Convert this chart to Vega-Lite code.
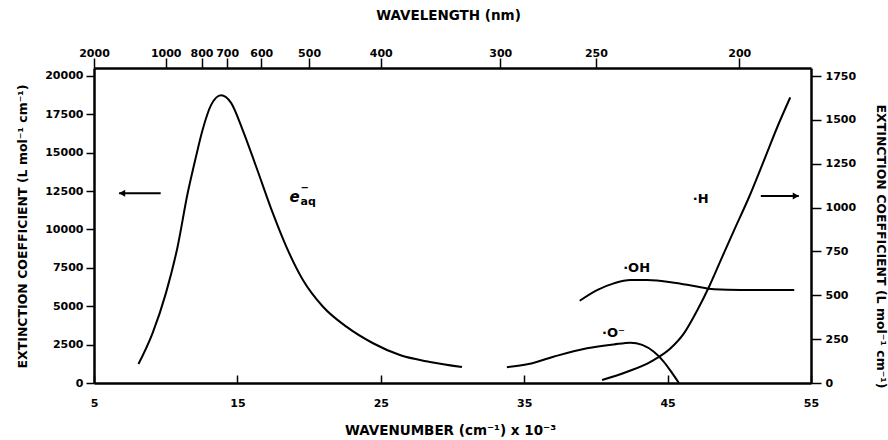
{
  "$schema": "https://vega.github.io/schema/vega-lite/v6.json",
  "width": 717,
  "height": 315,
  "autosize": {"type": "none"},
  "padding": {"left": 94, "top": 68, "right": 77, "bottom": 57},
  "background": "white",
  "config": {
    "view": {"stroke": null},
    "axis": {
      "domainColor": "black", "domainWidth": 2.5, "tickColor": "black", "tickWidth": 1.5,
      "labelColor": "black", "labelFont": "DejaVu Sans", "labelFontWeight": "bold", "labelFontSize": 11,
      "titleFont": "DejaVu Sans", "titleFontWeight": "bold", "titleColor": "black",
      "grid": false, "labelFlush": false, "labelOverlap": false
    }
  },
  "datasets": {
    "electron": [
      {"k": 8.1, "eps": 1240}, {"k": 9.08, "eps": 3240}, {"k": 10.01, "eps": 5840}, {"k": 10.83, "eps": 8880},
      {"k": 11.53, "eps": 12360}, {"k": 12.11, "eps": 14740}, {"k": 12.57, "eps": 16480}, {"k": 13.16, "eps": 18100},
      {"k": 13.86, "eps": 18750}, {"k": 14.56, "eps": 18250}, {"k": 15.37, "eps": 16480}, {"k": 16.31, "eps": 14090},
      {"k": 17.47, "eps": 11060}, {"k": 18.41, "eps": 8880}, {"k": 19.57, "eps": 6710}, {"k": 20.97, "eps": 4970},
      {"k": 22.6, "eps": 3670}, {"k": 24.46, "eps": 2590}, {"k": 26.33, "eps": 1820}, {"k": 28.43, "eps": 1370},
      {"k": 30.66, "eps": 1040}
    ],
    "radicals": [
      {"s": "O-", "k": 33.79, "a": 90}, {"s": "O-", "k": 35.3, "a": 108}, {"s": "O-", "k": 37.05, "a": 150},
      {"s": "O-", "k": 39.38, "a": 198}, {"s": "O-", "k": 41.25, "a": 220}, {"s": "O-", "k": 42.41, "a": 230},
      {"s": "O-", "k": 43.23, "a": 217}, {"s": "O-", "k": 44.04, "a": 178}, {"s": "O-", "k": 44.74, "a": 121},
      {"s": "O-", "k": 45.33, "a": 55}, {"s": "O-", "k": 45.79, "a": 0},
      {"s": "OH", "k": 38.87, "a": 469}, {"s": "OH", "k": 40.08, "a": 530}, {"s": "OH", "k": 41.25, "a": 568},
      {"s": "OH", "k": 42.41, "a": 587}, {"s": "OH", "k": 43.58, "a": 587}, {"s": "OH", "k": 45.44, "a": 572},
      {"s": "OH", "k": 46.84, "a": 553}, {"s": "OH", "k": 48.24, "a": 534}, {"s": "OH", "k": 50.1, "a": 530},
      {"s": "OH", "k": 51.97, "a": 530}, {"s": "OH", "k": 53.83, "a": 530},
      {"s": "H", "k": 40.43, "a": 17}, {"s": "H", "k": 42.18, "a": 64}, {"s": "H", "k": 43.81, "a": 121},
      {"s": "H", "k": 45.21, "a": 198}, {"s": "H", "k": 46.14, "a": 283}, {"s": "H", "k": 47.08, "a": 416},
      {"s": "H", "k": 47.89, "a": 549}, {"s": "H", "k": 48.71, "a": 701}, {"s": "H", "k": 49.64, "a": 872},
      {"s": "H", "k": 50.69, "a": 1062}, {"s": "H", "k": 51.73, "a": 1271}, {"s": "H", "k": 52.66, "a": 1461},
      {"s": "H", "k": 53.55, "a": 1628}
    ],
    "arrows": [
      {"side": "L", "k1": 6.75, "k2": 9.65, "v": 12360},
      {"side": "R", "k1": 51.5, "k2": 54.15, "v": 1066}
    ],
    "labels": [
      {"g": "L", "t": "e", "k": 18.64, "v": 12120},
      {"g": "R", "t": "·H", "k": 46.75, "v": 1049},
      {"g": "R", "t": "·OH", "k": 41.9, "v": 657},
      {"g": "R", "t": "·O⁻", "k": 40.43, "v": 287}
    ]
  },
  "layer": [
    {
      "layer": [
        {
          "data": {"name": "electron"},
          "mark": {"type": "line", "color": "black", "strokeWidth": 2, "interpolate": "monotone"},
          "encoding": {
            "x": {
              "field": "k", "type": "quantitative",
              "scale": {"domain": [5, 55], "nice": false, "zero": false},
              "axis": {
                "orient": "bottom", "values": [5, 15, 25, 35, 45, 55], "tickSize": -8, "labelPadding": 22,
                "title": "WAVENUMBER (cm⁻¹) x 10⁻³", "titleFontSize": 13.5, "titleX": 356, "titleY": 47,
                "titleBaseline": "middle", "titleAnchor": "middle"
              }
            },
            "y": {
              "field": "eps", "type": "quantitative",
              "scale": {"domain": [0, 20521], "nice": false},
              "axis": {
                "orient": "left", "values": [0, 2500, 5000, 7500, 10000, 12500, 15000, 17500, 20000], "format": "d",
                "tickSize": 8, "labelPadding": 3,
                "title": "EXTINCTION COEFFICIENT (L mol⁻¹ cm⁻¹)", "titleFontSize": 12.5,
                "titleX": -72, "titleY": 158, "titleAngle": -90, "titleBaseline": "middle", "titleAnchor": "middle"
              }
            }
          }
        },
        {
          "data": {"name": "arrows"},
          "transform": [{"filter": "datum.side == 'L'"}],
          "mark": {"type": "rule", "color": "black", "strokeWidth": 2},
          "encoding": {
            "x": {"field": "k1", "type": "quantitative", "axis": {"orient": "bottom", "values": [5, 15, 25, 35, 45, 55], "title": "WAVENUMBER (cm⁻¹) x 10⁻³"}},
            "x2": {"field": "k2"},
            "y": {"field": "v", "type": "quantitative", "axis": {"orient": "left", "values": [0, 2500, 5000, 7500, 10000, 12500, 15000, 17500, 20000], "format": "d", "title": "EXTINCTION COEFFICIENT (L mol⁻¹ cm⁻¹)"}}
          }
        },
        {
          "data": {"name": "arrows"},
          "transform": [{"filter": "datum.side == 'L'"}],
          "mark": {"type": "point", "shape": "triangle-left", "filled": true, "color": "black", "size": 50, "opacity": 1, "xOffset": 3},
          "encoding": {
            "x": {"field": "k1", "type": "quantitative", "axis": {"orient": "bottom", "values": [5, 15, 25, 35, 45, 55], "title": "WAVENUMBER (cm⁻¹) x 10⁻³"}},
            "y": {"field": "v", "type": "quantitative", "axis": {"orient": "left", "values": [0, 2500, 5000, 7500, 10000, 12500, 15000, 17500, 20000], "format": "d", "title": "EXTINCTION COEFFICIENT (L mol⁻¹ cm⁻¹)"}}
          }
        },
        {
          "data": {"name": "labels"},
          "transform": [{"filter": "datum.g == 'L'"}],
          "mark": {"type": "text", "align": "left", "baseline": "middle", "font": "DejaVu Sans", "fontWeight": "bold", "fontStyle": "italic", "fontSize": 15, "color": "black"},
          "encoding": {
            "x": {"field": "k", "type": "quantitative", "axis": {"orient": "bottom", "values": [5, 15, 25, 35, 45, 55], "title": "WAVENUMBER (cm⁻¹) x 10⁻³"}},
            "y": {"field": "v", "type": "quantitative", "axis": {"orient": "left", "values": [0, 2500, 5000, 7500, 10000, 12500, 15000, 17500, 20000], "format": "d", "title": "EXTINCTION COEFFICIENT (L mol⁻¹ cm⁻¹)"}},
            "text": {"field": "t"}
          }
        },
        {
          "data": {"name": "labels"},
          "transform": [{"filter": "datum.g == 'L'"}],
          "mark": {"type": "text", "align": "left", "baseline": "middle", "font": "DejaVu Sans", "fontWeight": "bold", "fontSize": 11, "color": "black", "dx": 11, "dy": 5},
          "encoding": {
            "x": {"field": "k", "type": "quantitative", "axis": {"orient": "bottom", "values": [5, 15, 25, 35, 45, 55], "title": "WAVENUMBER (cm⁻¹) x 10⁻³"}},
            "y": {"field": "v", "type": "quantitative", "axis": {"orient": "left", "values": [0, 2500, 5000, 7500, 10000, 12500, 15000, 17500, 20000], "format": "d", "title": "EXTINCTION COEFFICIENT (L mol⁻¹ cm⁻¹)"}},
            "text": {"value": "aq"}
          }
        },
        {
          "data": {"name": "labels"},
          "transform": [{"filter": "datum.g == 'L'"}],
          "mark": {"type": "text", "align": "left", "baseline": "middle", "font": "DejaVu Sans", "fontWeight": "bold", "fontSize": 10, "color": "black", "dx": 11, "dy": -9},
          "encoding": {
            "x": {"field": "k", "type": "quantitative", "axis": {"orient": "bottom", "values": [5, 15, 25, 35, 45, 55], "title": "WAVENUMBER (cm⁻¹) x 10⁻³"}},
            "y": {"field": "v", "type": "quantitative", "axis": {"orient": "left", "values": [0, 2500, 5000, 7500, 10000, 12500, 15000, 17500, 20000], "format": "d", "title": "EXTINCTION COEFFICIENT (L mol⁻¹ cm⁻¹)"}},
            "text": {"value": "−"}
          }
        }
      ]
    },
    {
      "layer": [
        {
          "data": {"name": "radicals"},
          "mark": {"type": "line", "color": "black", "strokeWidth": 2, "interpolate": "monotone"},
          "encoding": {
            "x": {
              "field": "k", "type": "quantitative",
              "scale": {"domain": [5, 55], "nice": false, "zero": false},
              "axis": {
                "orient": "top", "values": [5, 10, 12.5, 14.2857, 16.6667, 20, 25, 33.3333, 40, 50],
                "labelExpr": "round(10000 / datum.value)", "tickSize": 10, "labelPadding": 0,
                "title": "WAVELENGTH (nm)", "titleFontSize": 13.5, "titleX": 354, "titleY": -53,
                "titleBaseline": "middle", "titleAnchor": "middle"
              }
            },
            "y": {
              "field": "a", "type": "quantitative",
              "scale": {"domain": [0, 1796], "nice": false},
              "axis": {
                "orient": "right", "values": [0, 250, 500, 750, 1000, 1250, 1500, 1750], "format": "d",
                "tickSize": 10, "labelPadding": 4,
                "title": "EXTINCTION COEFFICIENT (L mol⁻¹ cm⁻¹)", "titleFontSize": 12.5,
                "titleX": 69, "titleY": 178, "titleAngle": 90, "titleBaseline": "middle", "titleAnchor": "middle"
              }
            },
            "detail": {"field": "s"}
          }
        },
        {
          "data": {"name": "arrows"},
          "transform": [{"filter": "datum.side == 'R'"}],
          "mark": {"type": "rule", "color": "black", "strokeWidth": 2},
          "encoding": {
            "x": {"field": "k1", "type": "quantitative", "axis": {"orient": "top", "values": [5, 10, 12.5, 14.2857, 16.6667, 20, 25, 33.3333, 40, 50], "title": "WAVELENGTH (nm)"}},
            "x2": {"field": "k2"},
            "y": {"field": "v", "type": "quantitative", "axis": {"orient": "right", "values": [0, 250, 500, 750, 1000, 1250, 1500, 1750], "format": "d", "title": "EXTINCTION COEFFICIENT (L mol⁻¹ cm⁻¹)"}}
          }
        },
        {
          "data": {"name": "arrows"},
          "transform": [{"filter": "datum.side == 'R'"}],
          "mark": {"type": "point", "shape": "triangle-right", "filled": true, "color": "black", "size": 50, "opacity": 1, "xOffset": -3},
          "encoding": {
            "x": {"field": "k2", "type": "quantitative", "axis": {"orient": "top", "values": [5, 10, 12.5, 14.2857, 16.6667, 20, 25, 33.3333, 40, 50], "title": "WAVELENGTH (nm)"}},
            "y": {"field": "v", "type": "quantitative", "axis": {"orient": "right", "values": [0, 250, 500, 750, 1000, 1250, 1500, 1750], "format": "d", "title": "EXTINCTION COEFFICIENT (L mol⁻¹ cm⁻¹)"}}
          }
        },
        {
          "data": {"name": "labels"},
          "transform": [{"filter": "datum.g == 'R'"}],
          "mark": {"type": "text", "align": "left", "baseline": "middle", "font": "DejaVu Sans", "fontWeight": "bold", "fontSize": 13, "color": "black"},
          "encoding": {
            "x": {"field": "k", "type": "quantitative", "axis": {"orient": "top", "values": [5, 10, 12.5, 14.2857, 16.6667, 20, 25, 33.3333, 40, 50], "title": "WAVELENGTH (nm)"}},
            "y": {"field": "v", "type": "quantitative", "axis": {"orient": "right", "values": [0, 250, 500, 750, 1000, 1250, 1500, 1750], "format": "d", "title": "EXTINCTION COEFFICIENT (L mol⁻¹ cm⁻¹)"}},
            "text": {"field": "t"}
          }
        }
      ]
    }
  ],
  "resolve": {"scale": {"y": "independent"}, "axis": {"x": "independent"}}
}
